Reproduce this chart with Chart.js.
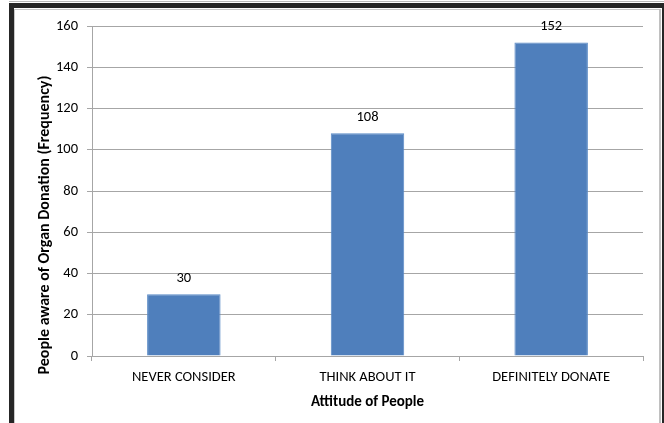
<!DOCTYPE html>
<html>
<head>
<meta charset="utf-8">
<script src="https://cdn.jsdelivr.net/npm/chart.js@4"></script>
<style>
  html, body { margin: 0; padding: 0; background: #fff; }
  #wrap { position: relative; width: 664px; height: 423px; overflow: hidden; }
  #chart { position: absolute; left: 0; top: 0; }
  .frame { position: absolute; }
</style>
</head>
<body>
<div id="wrap">
  <canvas id="chart" width="664" height="423"></canvas>
  <!-- page frame around the figure -->
  <div class="frame" style="left:9px;top:1px;width:655px;height:1px;background:#b8b8b8"></div>
  <div class="frame" style="left:9px;top:3px;width:655px;height:5px;background:#262626"></div>
  <div class="frame" style="left:9px;top:3px;width:5px;height:420px;background:#262626"></div>
  <div class="frame" style="left:14px;top:9px;width:646px;height:1px;background:#c8c8c8"></div>
  <div class="frame" style="left:14px;top:9px;width:1px;height:414px;background:#c8c8c8"></div>
  <div class="frame" style="left:659px;top:9px;width:2px;height:414px;background:#c0c0c0"></div>
  <div class="frame" style="left:662px;top:3px;width:2px;height:420px;background:#262626"></div>
</div>
<script>
const categories = ['NEVER CONSIDER', 'THINK ABOUT IT', 'DEFINITELY DONATE']
const frequency = [30, 108, 152]
const yTicks = [0, 20, 40, 60, 80, 100, 120, 140, 160]

const FONT = 'Carlito, Lato, "Open Sans", sans-serif'
const BAR_BLUE = '#4f7fbc'
const GRID = '#a6a6a6'

// value printed above each bar
const valueLabels = {
  id: 'valueLabels',
  afterDatasetsDraw (chart) {
    const ctx = chart.ctx
    const meta = chart.getDatasetMeta(0)
    ctx.save()
    ctx.font = '14.5px ' + FONT
    ctx.fillStyle = '#000'
    ctx.textAlign = 'center'
    ctx.textBaseline = 'middle'
    meta.data.forEach((bar, i) => {
      ctx.fillText(String(frequency[i]), bar.x, bar.y - 16)
    })
    ctx.restore()
  }
}

// rotated y axis title, sits a little lower than the plot centre
const sideTitle = {
  id: 'sideTitle',
  afterDraw (chart) {
    const ctx = chart.ctx
    const area = chart.chartArea
    ctx.save()
    ctx.translate(45, (area.top + area.bottom) / 2 + 34)
    ctx.rotate(-Math.PI / 2)
    ctx.font = 'bold 16px ' + FONT
    ctx.fillStyle = '#000'
    ctx.textAlign = 'center'
    ctx.textBaseline = 'middle'
    ctx.fillText('People aware of Organ Donation (Frequency)', 0, 0)
    ctx.restore()
  }
}

const config = {
  type: 'bar',
  data: {
    labels: categories,
    datasets: [{
      data: frequency,
      backgroundColor: BAR_BLUE,
      borderColor: '#5a8ac6',
      borderWidth: 1,
      categoryPercentage: 1,
      barPercentage: 0.4
    }]
  },
  options: {
    responsive: false,
    animation: false,
    devicePixelRatio: 1,
    layout: { padding: { top: 26, right: 21, left: 0, bottom: 12 } },
    plugins: {
      legend: { display: false },
      tooltip: { enabled: false }
    },
    scales: {
      x: {
        afterFit (scale) { scale.height = 55 },
        grid: {
          offset: true,
          drawOnChartArea: false,
          drawTicks: true,
          tickLength: 5,
          color: GRID
        },
        border: { color: GRID },
        ticks: {
          color: '#000',
          padding: 8,
          font: { family: FONT, size: 14.5 }
        },
        title: {
          display: true,
          text: 'Attitude of People',
          color: '#000',
          padding: { top: 2, bottom: 0 },
          font: { family: FONT, size: 15, weight: 'bold' }
        }
      },
      y: {
        min: 0,
        max: 160,
        afterFit (scale) { scale.width = 92 },
        afterBuildTicks (scale) { scale.ticks = yTicks.map(v => ({ value: v })) },
        grid: { color: GRID, tickLength: 5 },
        border: { color: GRID },
        ticks: {
          color: '#000',
          padding: 9,
          font: { family: FONT, size: 14.5 }
        }
      }
    }
  },
  plugins: [valueLabels, sideTitle]
}

window.organChart = new Chart(document.getElementById('chart').getContext('2d'), config)
</script>
</body>
</html>
